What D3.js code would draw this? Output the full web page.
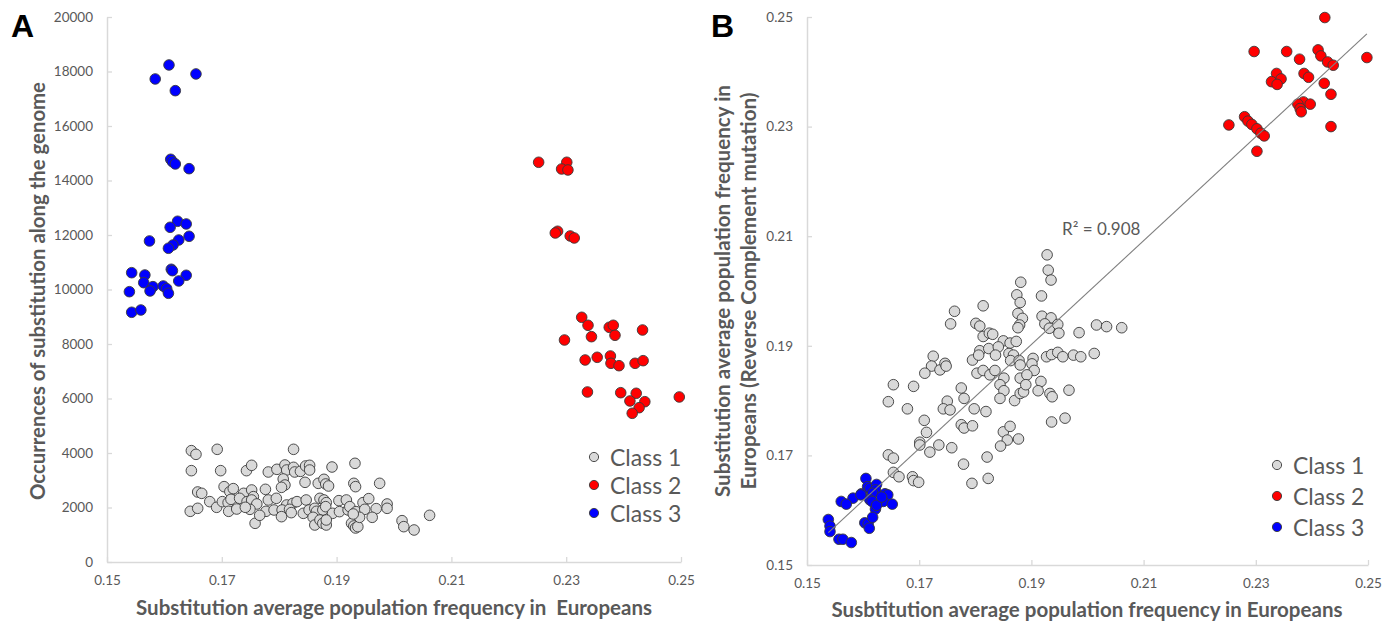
<!DOCTYPE html>
<html>
<head>
<meta charset="utf-8">
<script src="https://cdn.jsdelivr.net/npm/d3@7"></script>
<style>
  body { margin: 0; background: #fff; }
  svg text { font-family: Lato, "Open Sans", sans-serif; }
</style>
</head>
<body>
<svg id="chart" width="1396" height="623"></svg>
<script>
// Panel A: x = avg population frequency, y = occurrences along the genome
const class1A = [
  [0.1647,4086],[0.1655,3951],[0.1692,4135],[0.1825,4135],
  [0.1647,3352],[0.1698,3352],[0.1743,3352],[0.1752,3548],[0.1781,3303],[0.1796,3401],[0.1810,3560],[0.1813,3376],[0.1825,3474],[0.1827,3303],[0.1837,3327],[0.1846,3523],[0.1853,3548],[0.1853,3376],[0.1892,3486],[0.1932,3621],
  [0.1807,3046],[0.1810,2826],[0.1804,2740],[0.1845,2924],[0.1868,2887],[0.1878,3034],[0.1881,2863],[0.1886,2789],[0.1930,2887],[0.1933,2765],[0.1975,2887],
  [0.1658,2569],[0.1665,2520],[0.1704,2765],[0.1714,2581],[0.1720,2692],[0.1738,2520],[0.1752,2643],[0.1755,2398],[0.1776,2667],[0.1781,2276],[0.1795,2337],
  [0.1679,2215],[0.1691,2007],[0.1701,2215],[0.1711,2178],[0.1716,2300],[0.1731,2337],[0.1744,2215],[0.1752,2276],[0.1761,2129],[0.1749,1933],[0.1645,1860],[0.1658,1970],[0.1712,1860],[0.1726,1945],[0.1741,2007],
  [0.1813,2092],[0.1824,2153],[0.1831,2215],[0.1847,2276],[0.1871,2337],[0.1878,2276],[0.1882,2178],[0.1904,2251],[0.1917,2276],[0.1946,2178],[0.1956,2325],[0.1988,2129],[0.1988,1970],
  [0.1777,1860],[0.1791,1909],[0.1805,1909],[0.1818,1933],[0.1821,1811],[0.1842,1786],[0.1852,1909],[0.1862,1970],[0.1865,1860],[0.1876,1909],[0.1881,2031],[0.1893,1786],[0.1905,1848],[0.1920,1909],[0.1923,2031],[0.1934,1848],[0.1949,1933],[0.1969,1958],
  [0.1758,1420],[0.1766,1713],[0.1804,1664],[0.1859,1640],[0.1862,1358],[0.1871,1542],[0.1876,1420],[0.1882,1358],[0.1882,1542],[0.1926,1420],[0.1930,1322],[0.1933,1248],[0.1937,1297],[0.1940,1640],[0.1962,1640],[0.1929,1762],
  [0.2014,1517],[0.2017,1297],[0.2035,1175],[0.2062,1713]
]
const class2A = [
  [0.2252,14669],[0.2301,14669],[0.2292,14423],[0.2303,14386],[0.2285,12137],[0.2281,12074],[0.2307,11964],[0.2314,11891],
  [0.2327,8980],[0.2338,8687],[0.2375,8613],[0.2382,8687],[0.2433,8514],[0.2344,8269],[0.2385,8320],[0.2297,8147],
  [0.2333,7413],[0.2354,7512],[0.2377,7560],[0.2378,7292],[0.2392,7204],[0.2420,7292],[0.2434,7388],
  [0.2337,6239],[0.2395,6213],[0.2422,6191],[0.2411,5909],[0.2437,5883],[0.2497,6056],[0.2427,5663],[0.2415,5457]
]
const class3A = [
  [0.1584,17726],[0.1608,18240],[0.1655,17910],[0.1619,17297],[0.1611,14779],[0.1614,14691],[0.1619,14607],[0.1643,14434],
  [0.1623,12504],[0.1638,12405],[0.1610,12283],[0.1643,11953],[0.1574,11781],[0.1625,11817],[0.1615,11634],[0.1607,11513],
  [0.1543,10617],[0.1566,10533],[0.1612,10742],[0.1614,10691],[0.1638,10522],[0.1625,10313],[0.1564,10250],[0.1580,10104],
  [0.1575,9946],[0.1598,10129],[0.1604,10030],[0.1607,9861],[0.1539,9920],[0.1543,9164],[0.1559,9248]
]

// Panel B: x = avg frequency, y = avg frequency of the reverse complement mutation
const class1B = [
  [0.1928,0.2066],[0.1930,0.2038],[0.1935,0.2020],[0.1881,0.2016],[0.1918,0.1991],[0.1874,0.1993],[0.1880,0.1979],[0.1814,0.1973],[0.1763,0.1963],[0.1756,0.1940],
  [0.1876,0.1959],[0.1884,0.1950],[0.1879,0.1938],[0.1876,0.1933],[0.1919,0.1954],[0.1935,0.1951],[0.1924,0.1940],[0.1932,0.1932],[0.1947,0.1939],[0.1949,0.1923],
  [0.1985,0.1924],[0.2016,0.1938],[0.2034,0.1935],[0.2061,0.1933],
  [0.1801,0.1941],[0.1808,0.1936],[0.1814,0.1917],[0.1825,0.1923],[0.1831,0.1921],[0.1850,0.1909],[0.1862,0.1905],[0.1873,0.1908],
  [0.1808,0.1891],[0.1824,0.1895],[0.1841,0.1898],[0.1836,0.1883],[0.1795,0.1874],[0.1806,0.1883],[0.1860,0.1886],[0.1868,0.1883],
  [0.1863,0.1873],[0.1878,0.1873],[0.1880,0.1865],[0.1903,0.1877],[0.1901,0.1867],[0.1905,0.1855],[0.1927,0.1880],[0.1936,0.1884],
  [0.1947,0.1888],[0.1956,0.1880],[0.1975,0.1883],[0.1988,0.1880],[0.2012,0.1886],
  [0.1725,0.1881],[0.1722,0.1863],[0.1710,0.1850],[0.1737,0.1856],[0.1746,0.1868],[0.1748,0.1863],
  [0.1803,0.1850],[0.1814,0.1855],[0.1826,0.1847],[0.1835,0.1855],[0.1851,0.1841],[0.1844,0.1829],[0.1851,0.1818],[0.1844,0.1804],
  [0.1870,0.1800],[0.1880,0.1841],[0.1892,0.1847],[0.1880,0.1813],[0.1886,0.1816],[0.1890,0.1829],[0.1917,0.1835],[0.1912,0.1818],
  [0.1933,0.1813],[0.1937,0.1807],[0.1967,0.1819],
  [0.1654,0.1829],[0.1690,0.1826],[0.1645,0.1798],[0.1679,0.1785],[0.1775,0.1823],[0.1780,0.1804],[0.1750,0.1799],[0.1743,0.1785],
  [0.1755,0.1783],[0.1798,0.1785],[0.1819,0.1780],
  [0.1709,0.1764],[0.1713,0.1742],[0.1701,0.1724],[0.1701,0.1719],[0.1719,0.1706],[0.1735,0.1719],[0.1758,0.1714],[0.1775,0.1756],
  [0.1780,0.1750],[0.1795,0.1754],[0.1850,0.1743],[0.1862,0.1753],[0.1857,0.1728],[0.1845,0.1717],[0.1877,0.1730],[0.1936,0.1761],[0.1960,0.1768],
  [0.1645,0.1701],[0.1654,0.1695],[0.1779,0.1684],[0.1821,0.1697],[0.1654,0.1669],[0.1664,0.1661],[0.1688,0.1661],[0.1690,0.1654],
  [0.1699,0.1651],[0.1794,0.1649],[0.1823,0.1658]
]
const class2B = [
  [0.2423,0.2499],[0.2297,0.2437],[0.2355,0.2437],[0.2378,0.2423],[0.2411,0.2440],[0.2416,0.2429],[0.2428,0.2418],[0.2438,0.2412],
  [0.2498,0.2426],[0.2337,0.2397],[0.2345,0.2387],[0.2328,0.2382],[0.2338,0.2377],[0.2386,0.2397],[0.2394,0.2390],[0.2422,0.2379],
  [0.2434,0.2359],[0.2385,0.2345],[0.2375,0.2341],[0.2379,0.2333],[0.2381,0.2327],[0.2397,0.2341],
  [0.2280,0.2318],[0.2286,0.2310],[0.2293,0.2304],[0.2302,0.2296],[0.2309,0.2288],[0.2315,0.2283],[0.2252,0.2303],[0.2434,0.2300],[0.2302,0.2255]
]
const class3B = [
  [0.1605,0.1658],[0.1608,0.1643],[0.1612,0.1640],[0.1624,0.1647],[0.1622,0.1637],[0.1597,0.1630],[0.1582,0.1622],[0.1561,0.1616],
  [0.1570,0.1611],[0.1617,0.1631],[0.1612,0.1619],[0.1616,0.1616],[0.1622,0.1602],[0.1639,0.1630],[0.1644,0.1628],[0.1636,0.1616],
  [0.1652,0.1611],[0.1624,0.1609],[0.1603,0.1577],[0.1609,0.1575],[0.1617,0.1587],[0.1611,0.1567],[0.1538,0.1583],[0.1541,0.1571],
  [0.1541,0.1561],[0.1557,0.1547],[0.1564,0.1547],[0.1579,0.1541],[0.1633,0.1624],[0.1596,0.1628]
]

// linear trend in panel B
const trendSlope = 0.948
const trendIntercept = 0.0101
const rSquared = '0.908'

const freqTicks = [0.15, 0.17, 0.19, 0.21, 0.23, 0.25]
const countTicks = [0, 2000, 4000, 6000, 8000, 10000, 12000, 14000, 16000, 18000, 20000]
const classNames = ['Class 1', 'Class 2', 'Class 3']
const classColors = ['#d9d9d9', '#ff0000', '#0000ff']

const textGray = '#595959'
const axisGray = '#d9d9d9'

const svg = d3.select('#chart')

function drawAxes(x, y, yTicks, yFormat) {
  const gx = svg.append('g')
    .attr('transform', `translate(0,${y.range()[0]})`)
    .call(d3.axisBottom(x).tickValues(freqTicks).tickFormat(d3.format('.2f'))
      .tickSizeInner(-5).tickSizeOuter(0).tickPadding(13))
  const gy = svg.append('g')
    .attr('transform', `translate(${x.range()[0]},0)`)
    .call(d3.axisLeft(y).tickValues(yTicks).tickFormat(yFormat)
      .tickSizeInner(-5).tickSizeOuter(0).tickPadding(14))

  ;[gx, gy].forEach(g => {
    g.select('.domain').attr('stroke', axisGray).attr('stroke-width', 1.5)
    g.selectAll('.tick line').attr('stroke', axisGray).attr('stroke-width', 1.3)
    g.selectAll('.tick text').attr('fill', textGray).style('font-size', '13.5px')
  })
}

function drawPoints(x, y, series) {
  series.forEach((pts, i) => {
    svg.append('g')
      .selectAll('circle')
      .data(pts)
      .enter().append('circle')
      .attr('cx', d => x(d[0]))
      .attr('cy', d => y(d[1]))
      .attr('r', 5.3)
      .attr('fill', classColors[i])
      .attr('stroke', '#3a3a3a')
      .attr('stroke-width', 0.9)
  })
}

function drawLegend(lx, ly, step) {
  const g = svg.append('g')
  classNames.forEach((name, i) => {
    g.append('circle')
      .attr('cx', lx).attr('cy', ly + i * step).attr('r', 4.6)
      .attr('fill', classColors[i]).attr('stroke', '#3a3a3a').attr('stroke-width', 0.9)
    g.append('text')
      .attr('x', lx + 16).attr('y', ly + i * step)
      .attr('dominant-baseline', 'central')
      .attr('fill', textGray)
      .style('font-size', '23px')
      .text(name)
  })
}

// width = measured span of the title in the reference
function axisTitle(txt, cx, cy, rotate, width) {
  svg.append('text')
    .attr('transform', `translate(${cx},${cy}) rotate(${rotate})`)
    .attr('text-anchor', 'middle')
    .attr('dominant-baseline', 'central')
    .attr('fill', textGray)
    .attr('textLength', width)
    .attr('lengthAdjust', 'spacingAndGlyphs')
    .style('white-space', 'pre')
    .style('font-size', '20px')
    .style('font-weight', 'bold')
    .text(txt)
}

// ---- Panel A ----
const xA = d3.scaleLinear().domain([0.15, 0.25]).range([107, 681])
const yA = d3.scaleLinear().domain([0, 20000]).range([562, 17])

drawAxes(xA, yA, countTicks, d3.format('d'))
drawPoints(xA, yA, [class1A, class2A, class3A])
drawLegend(594, 457, 28)
axisTitle('Substitution average population frequency in  Europeans', 394, 607, 0, 516)
axisTitle('Occurrences of substitution along the genome', 37, 291, -90, 418)

svg.append('text').attr('x', 11).attr('y', 37)
  .style('font-family', '"Liberation Sans", Arial, sans-serif')
  .style('font-size', '32px').style('font-weight', 'bold')
  .attr('fill', '#000').text('A')

// ---- Panel B ----
const xB = d3.scaleLinear().domain([0.15, 0.25]).range([807, 1368])
const yB = d3.scaleLinear().domain([0.15, 0.25]).range([565, 17])

drawAxes(xB, yB, freqTicks, d3.format('.2f'))
drawPoints(xB, yB, [class1B, class2B, class3B])

const allB = class1B.concat(class2B, class3B)
const trendX = d3.extent(allB, d => d[0])
svg.append('line')
  .attr('x1', xB(trendX[0])).attr('y1', yB(trendSlope * trendX[0] + trendIntercept))
  .attr('x2', xB(trendX[1])).attr('y2', yB(trendSlope * trendX[1] + trendIntercept))
  .attr('stroke', '#7f7f7f').attr('stroke-width', 1.1)

svg.append('text').attr('x', 1062).attr('y', 228)
  .attr('dominant-baseline', 'central')
  .attr('fill', textGray).style('font-size', '17px')
  .text(`R² = ${rSquared}`)

drawLegend(1277, 465, 31)
axisTitle('Susbtitution average population frequency in Europeans', 1087, 609, 0, 511)
axisTitle('Substitution average population frequency in', 722, 291, -90, 412)
axisTitle('Europeans (Reverse Complement mutation)', 748, 291, -90, 397)

svg.append('text').attr('x', 711).attr('y', 37)
  .style('font-family', '"Liberation Sans", Arial, sans-serif')
  .style('font-size', '32px').style('font-weight', 'bold')
  .attr('fill', '#000').text('B')
</script>
</body>
</html>
